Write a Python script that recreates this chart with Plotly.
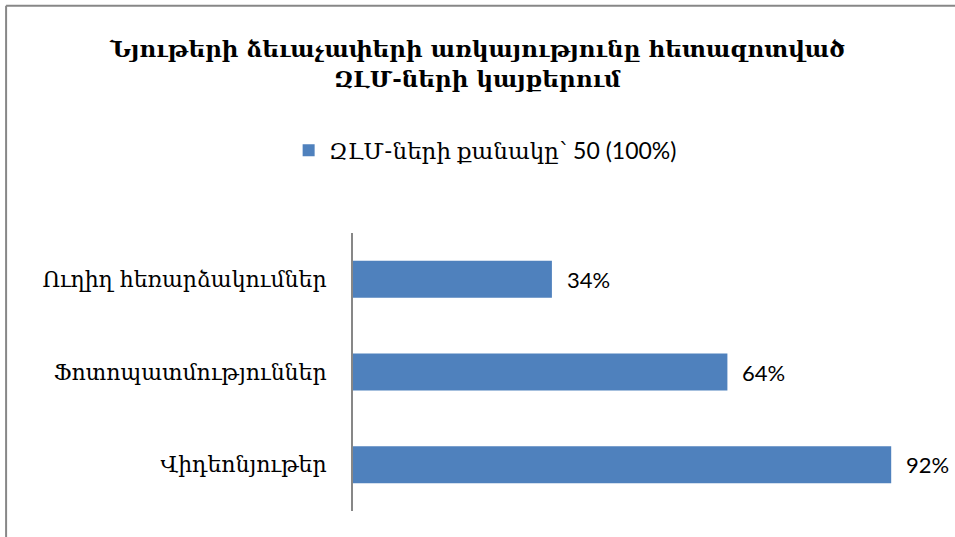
import plotly.graph_objects as go

# -----------------------------
# DATA
# -----------------------------
categories = ["Ուղիղ հեռարձակումներ", "Ֆոտոպատմություններ", "Վիդեոնյութեր"]
values = [34, 64, 92]
series_name = "ԶԼՄ-ների քանակը՝ 50 (100%)"
title_text = "Նյութերի ձեւաչափերի առկայությունը հետազոտված<br>ԶԼՄ-ների կայքերում"

BAR_COLOR = "#4F81BD"
GRAY = "#878787"
ARM_FONT = "DejaVu Serif"
MIX_FONT = "Lato, 'DejaVu Serif'"

# -----------------------------
# FIGURE
# -----------------------------
fig = go.Figure()

fig.add_trace(go.Bar(
    y=categories,
    x=values,
    orientation="h",
    name=series_name,
    marker=dict(color=BAR_COLOR, line=dict(width=0)),
    width=0.4,
    showlegend=True,
))

# value labels, a bit away from the bar ends
for cat, v in zip(categories, values):
    fig.add_annotation(
        x=v, y=cat, text=f"{v}%",
        xanchor="left", yanchor="middle", xshift=13,
        showarrow=False,
        font=dict(family=MIX_FONT, size=22, color="#000000"),
    )

fig.update_layout(
    width=955,
    height=537,
    margin=dict(l=353, r=17, t=233, b=26),
    paper_bgcolor="white",
    plot_bgcolor="white",
    title=dict(
        text=title_text,
        x=0.5,
        xanchor="center",
        y=0.894,
        yanchor="middle",
        font=dict(family=ARM_FONT, size=23, color="#000000", weight="bold"),
    ),
    showlegend=True,
    legend=dict(
        orientation="h",
        xref="container",
        yref="container",
        x=0.508,
        xanchor="center",
        y=0.72,
        yanchor="middle",
        font=dict(family=MIX_FONT, size=23, color="#000000"),
        itemwidth=30,
    ),
    xaxis=dict(
        range=[0, 100],
        showgrid=False,
        zeroline=False,
        showticklabels=False,
        showline=False,
        ticks="",
    ),
    yaxis=dict(
        autorange="reversed",
        showgrid=False,
        zeroline=False,
        showline=True,
        linecolor=GRAY,
        linewidth=2,
        ticks="",
        ticklabelstandoff=20,
        tickfont=dict(family=ARM_FONT, size=22, color="#000000"),
    ),
    bargap=0.6,
)

# chart-area border (top and left edges visible, rest cropped)
fig.add_shape(type="line", xref="paper", yref="paper",
              x0=-0.593, x1=1.2, y0=1.817, y1=1.817,
              line=dict(color=GRAY, width=2))
fig.add_shape(type="line", xref="paper", yref="paper",
              x0=-0.593, x1=-0.593, y0=1.817, y1=-0.2,
              line=dict(color=GRAY, width=2))

fig.write_html("out.html", config={"displayModeBar": False},
               post_script="document.body.style.margin='0';")
